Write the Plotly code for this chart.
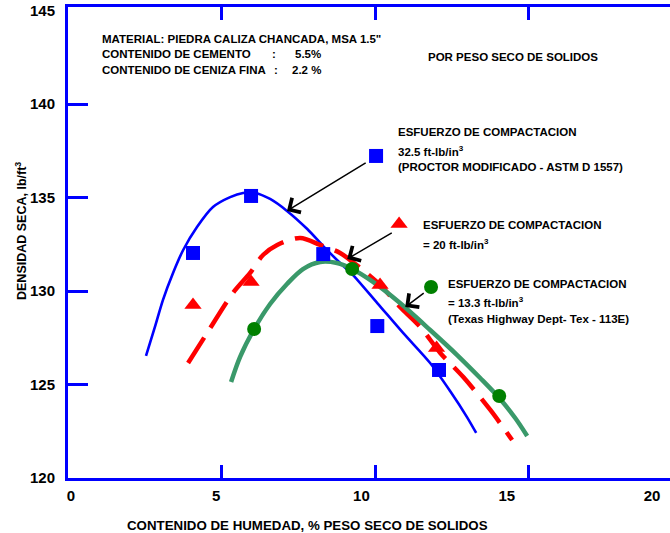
import plotly.graph_objects as go

# --- measured points (moisture %, dry density lb/ft3) ---
w_325 = [4.07, 5.96, 8.31, 10.07, 12.08]
d_325 = [132.04, 135.09, 131.98, 128.13, 125.78]

w_20 = [4.07, 5.96, 10.16, 12.00]
d_20 = [129.26, 130.49, 130.33, 126.96]

w_133 = [6.06, 9.25, 14.04]
d_133 = [127.97, 131.18, 124.39]

# --- fitted compaction curves ---
cw_325 = [2.54, 2.83, 3.09, 3.42, 3.75, 4.20, 4.72, 5.28, 5.70, 6.09, 6.58, 7.13,
          7.79, 8.31, 8.86, 9.25, 10.07, 10.91, 11.79, 12.44, 12.99, 13.29]
cd_325 = [126.53, 128.08, 129.52, 130.97, 132.20, 133.43, 134.50, 135.03, 135.25,
          135.25, 134.93, 134.29, 133.32, 132.41, 131.50, 130.91, 129.36, 127.76,
          126.15, 124.65, 123.26, 122.41]

cw_20 = [3.91, 4.53, 5.37, 5.93, 6.35, 6.81, 7.56, 8.21, 8.86, 9.51, 10.16, 10.81,
         11.47, 12.12, 12.87, 13.75, 14.46]
cd_20 = [126.15, 127.76, 129.90, 130.97, 131.93, 132.47, 132.84, 132.47, 132.04,
         131.24, 130.33, 129.15, 128.08, 126.69, 125.40, 123.64, 122.03]

cw_133 = [5.31, 5.60, 6.06, 6.58, 7.13, 7.65, 8.21, 8.76, 9.25, 9.93, 10.81, 11.79,
          12.67, 13.42, 14.04, 14.56, 14.95]
cd_133 = [125.14, 126.47, 127.97, 129.31, 130.38, 131.18, 131.56, 131.50, 131.18,
          130.49, 129.36, 127.92, 126.58, 125.35, 124.28, 123.21, 122.25]

# --- key symbols placed beside each caption ---
key_w = [10.03, 10.78, 11.82]
key_d = [137.23, 133.59, 130.22]

x_ticks = [0, 5, 10, 15, 20]
y_ticks = [120, 125, 130, 135, 140, 145]

BLUE = "#0000FF"
RED = "#FF0000"
GREEN_LINE = "#3a996a"
GREEN_MK = "#008000"
FONT = "Arial, Liberation Sans, sans-serif"

W, H = 670, 533
L, R, T, B = 68, 0, 7, 55
PW, PH = W - L - R, H - T - B

def px(x):
    return (x - L) / PW

def py(y):
    return (H - B - y) / PH

fig = go.Figure()

fig.add_trace(go.Scatter(x=cw_325, y=cd_325, mode="lines",
                         line=dict(color=BLUE, width=2.6, shape="spline", smoothing=0.8),
                         hoverinfo="skip"))
fig.add_trace(go.Scatter(x=cw_20, y=cd_20, mode="lines",
                         line=dict(color=RED, width=4.5, dash="30px,12px", shape="spline", smoothing=0.9),
                         hoverinfo="skip"))
fig.add_trace(go.Scatter(x=cw_133, y=cd_133, mode="lines",
                         line=dict(color=GREEN_LINE, width=4.5, shape="spline", smoothing=0.9),
                         hoverinfo="skip"))

fig.add_trace(go.Scatter(x=w_325, y=d_325, mode="markers",
                         marker=dict(symbol="square", size=14, color=BLUE)))
fig.add_trace(go.Scatter(x=w_20, y=d_20, mode="markers",
                         marker=dict(symbol="triangle-up", size=15, color=RED)))
fig.add_trace(go.Scatter(x=w_133, y=d_133, mode="markers",
                         marker=dict(symbol="circle", size=14, color=GREEN_MK)))

fig.add_trace(go.Scatter(x=key_w[:1], y=key_d[:1], mode="markers",
                         marker=dict(symbol="square", size=14, color=BLUE)))
fig.add_trace(go.Scatter(x=key_w[1:2], y=key_d[1:2], mode="markers",
                         marker=dict(symbol="triangle-up", size=15, color=RED)))
fig.add_trace(go.Scatter(x=key_w[2:], y=key_d[2:], mode="markers",
                         marker=dict(symbol="circle", size=14, color=GREEN_MK)))

X_RANGE = [0, 19.6]
Y_RANGE = [120, 145.2]

fig.update_layout(
    width=W, height=H,
    margin=dict(l=L, r=R, t=T, b=B),
    paper_bgcolor="white", plot_bgcolor="white",
    showlegend=False,
    font=dict(family=FONT, color="black"),
    xaxis=dict(range=X_RANGE, tickvals=[5, 10, 15], showticklabels=False,
               ticks="inside", ticklen=13, tickwidth=3, tickcolor=BLUE,
               showline=True, linecolor=BLUE, linewidth=3, mirror="ticks",
               showgrid=False, zeroline=False),
    xaxis2=dict(range=[-0.1, 20.62], overlaying="x", anchor="y", side="bottom",
                tickvals=x_ticks, ticktext=[str(v) for v in x_ticks],
                ticks="", showline=False, showgrid=False, zeroline=False,
                tickfont=dict(size=15, weight="bold", family=FONT),
                ticklabelstandoff=7),
    yaxis=dict(range=Y_RANGE, tickvals=[125, 130, 135, 140], showticklabels=False,
               ticks="inside", ticklen=20, tickwidth=3, tickcolor=BLUE,
               showline=True, linecolor=BLUE, linewidth=3, mirror=False,
               showgrid=False, zeroline=False),
    yaxis2=dict(range=Y_RANGE, overlaying="y", anchor="x", side="right",
                tickvals=[125, 130, 135, 140], showticklabels=False,
                ticks="inside", ticklen=10, tickwidth=3, tickcolor=BLUE,
                showline=False, showgrid=False, zeroline=False),
    yaxis3=dict(range=Y_RANGE, overlaying="y", anchor="x", side="left",
                tickvals=y_ticks, ticktext=[str(v) for v in y_ticks],
                ticks="", showline=False, showgrid=False, zeroline=False,
                tickfont=dict(size=15, weight="bold", family=FONT),
                ticklabelstandoff=12),
)

# empty trace bound to the overlay label axes so they are drawn
fig.add_trace(go.Scatter(x=[], y=[], xaxis="x2", yaxis="y3", hoverinfo="skip"))

ann = []

def text(x, y, s, size=11.5, xanchor="left"):
    ann.append(dict(x=px(x), y=py(y), xref="paper", yref="paper", text=s,
                    showarrow=False, xanchor=xanchor, yanchor="middle",
                    font=dict(size=size, family=FONT, color="black", weight="bold")))

# header notes
text(100, 39, 'MATERIAL: PIEDRA CALIZA CHANCADA, MSA 1.5"')
text(100, 54, "CONTENIDO DE CEMENTO")
text(274, 54, ":", xanchor="center")
text(293, 54, "5.5%")
text(100, 70, "CONTENIDO DE CENIZA FINA")
text(276, 70, ":", xanchor="center")
text(290, 70, "2.2 %")
text(513, 57, "POR PESO SECO DE SOLIDOS", xanchor="center")

# captions for each compaction effort
text(396, 132, "ESFUERZO DE COMPACTACION")
text(396, 151, "32.5 ft-lb/in<sup>3</sup>")
text(396, 167, "(PROCTOR MODIFICADO - ASTM D 1557)")
text(421, 225, "ESFUERZO DE COMPACTACION")
text(421, 244, "= 20 ft-lb/in<sup>3</sup>")
text(446, 284, "ESFUERZO DE COMPACTACION")
text(446, 302, "= 13.3 ft-lb/in<sup>3</sup>")
text(446, 319, "(Texas Highway Dept- Tex - 113E)")

# axis titles
ann.append(dict(x=px(307), y=py(525), xref="paper", yref="paper",
                text="CONTENIDO DE HUMEDAD, % PESO SECO DE SOLIDOS", showarrow=False,
                xanchor="center", yanchor="middle",
                font=dict(size=13.3, family=FONT, color="black", weight="bold")))
ann.append(dict(x=px(21), y=py(231), xref="paper", yref="paper",
                text="DENSIDAD SECA, lb/ft<sup>3</sup>", showarrow=False, textangle=-90,
                xanchor="center", yanchor="middle",
                font=dict(size=12.5, family=FONT, color="black", weight="bold")))

# leader arrows from captions to curves
arrows = [((9.74, 136.91), (7.13, 134.29)),
          ((10.59, 133.16), (9.09, 131.72)),
          ((11.63, 129.95), (10.98, 129.15))]
for (tx, ty), (hx, hy) in arrows:
    ann.append(dict(x=hx, y=hy, ax=tx, ay=ty, xref="x", yref="y", axref="x", ayref="y",
                    text="", showarrow=True, arrowhead=4, arrowsize=2.2, arrowwidth=1.5,
                    arrowcolor="black", standoff=0, startstandoff=0))

fig.update_layout(annotations=ann)

fig.write_html("out.html")
